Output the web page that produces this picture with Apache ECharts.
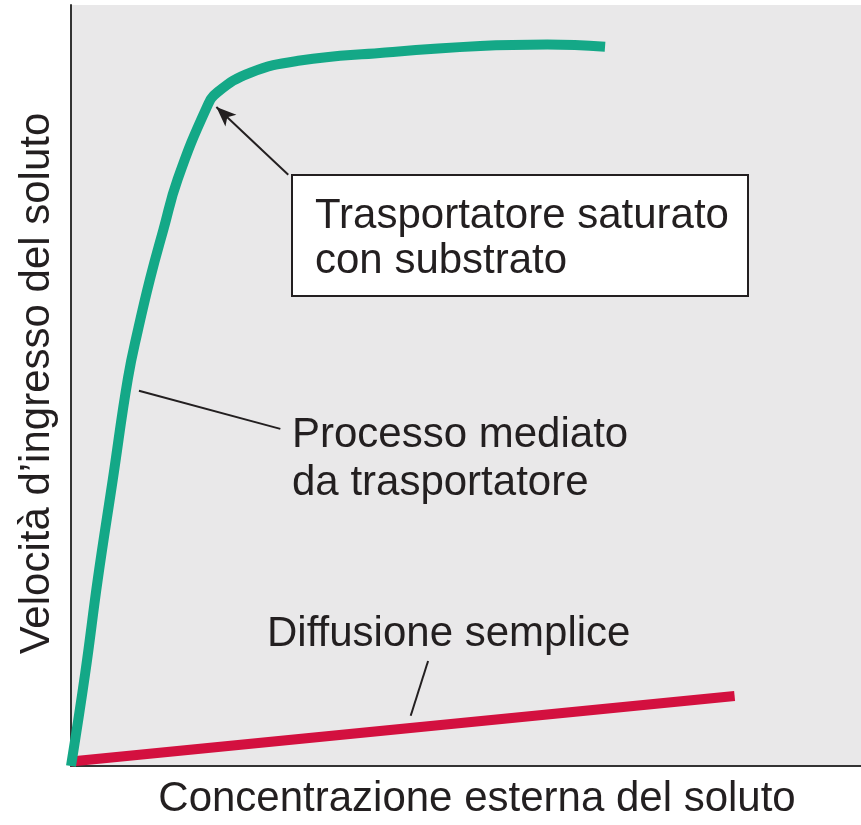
<!DOCTYPE html>
<html>
<head>
<meta charset="utf-8">
<script src="https://cdn.jsdelivr.net/npm/echarts@6/dist/echarts.min.js"></script>
<style>
  html, body { margin: 0; padding: 0; background: #fff; }
  #chart { width: 861px; height: 825px; }
</style>
</head>
<body>
<div id="chart"></div>
<script>
// carrier mediated uptake (saturating curve)
var carrierX = [0, 1.8, 3.4, 5.3, 7.2, 8.5, 10.0, 11.7, 13.5, 17.2, 18.5, 22.7, 29.0, 39.1, 51.8, 60.3, 67.6];
var carrierY = [0, 12.2, 24.6, 37.7, 50.9, 57.4, 64.0, 70.5, 77.1, 86.6, 88.5, 91.1, 92.7, 93.7, 94.6, 94.8, 94.5];
// simple diffusion (straight line)
var diffusionX = [0, 84.0];
var diffusionY = [0.6, 9.2];

var xTitle = 'Concentrazione esterna del soluto';
var yTitle = 'Velocità d’ingresso del soluto';

var FONT = '"Liberation Sans", Arial, Helvetica, sans-serif';
var INK = '#231f20';

function pairs(xs, ys) {
    return xs.map(function (x, i) { return [x, ys[i]]; });
}

var chartDom = document.getElementById('chart');
var myChart = echarts.init(chartDom, null, { renderer: 'canvas' });

var leaderStyle = { color: INK, width: 2, type: 'solid' };

var option = {
    animation: false,
    backgroundColor: '#ffffff',
    grid: {
        left: 71,
        right: 0,
        top: 5,
        bottom: 57,
        show: true,
        backgroundColor: '#e9e8e9',
        borderWidth: 0
    },
    xAxis: {
        type: 'value',
        min: 0,
        max: 100,
        name: xTitle,
        nameLocation: 'middle',
        nameGap: 12,
        nameTextStyle: {
            fontFamily: FONT,
            fontSize: 42,
            color: INK,
            verticalAlign: 'top',
            padding: [0, 0, 0, 22]
        },
        axisLine: { show: true, lineStyle: { color: '#333', width: 2 } },
        axisTick: { show: false },
        axisLabel: { show: false },
        splitLine: { show: false }
    },
    yAxis: {
        type: 'value',
        min: 0,
        max: 100,
        name: yTitle,
        nameLocation: 'middle',
        nameGap: 13,
        nameRotate: 90,
        nameTextStyle: {
            fontFamily: FONT,
            fontSize: 42,
            color: INK,
            padding: [0, 0, 0, 4]
        },
        axisLine: { show: true, onZero: false, lineStyle: { color: '#333', width: 2 } },
        axisTick: { show: false },
        axisLabel: { show: false },
        splitLine: { show: false }
    },
    series: [
        {
            name: 'Diffusione semplice',
            type: 'line',
            data: pairs(diffusionX, diffusionY),
            showSymbol: false,
            lineStyle: { color: '#d3103f', width: 10, cap: 'butt' },
            markLine: {
                silent: true,
                symbol: 'none',
                label: { show: false },
                lineStyle: leaderStyle,
                data: [
                    [{ coord: [45.2, 13.8] }, { coord: [43.0, 6.6] }]
                ]
            }
        },
        {
            name: 'Processo mediato da trasportatore',
            type: 'line',
            data: pairs(carrierX, carrierY),
            showSymbol: false,
            smooth: 0.45,
            lineStyle: { color: '#14a887', width: 10, cap: 'butt', join: 'round' },
            markLine: {
                silent: true,
                label: { show: false },
                lineStyle: leaderStyle,
                data: [
                    [{ coord: [8.6, 49.3], symbol: 'none' }, { coord: [26.5, 44.3], symbol: 'none' }],
                    [{ coord: [27.5, 77.7], symbol: 'none' }, { coord: [18.4, 86.6], symbol: 'arrow', symbolSize: [12, 20] }]
                ]
            }
        }
    ],
    graphic: [
        {
            type: 'rect',
            z: 100,
            shape: { x: 292, y: 175, width: 456, height: 121 },
            style: { fill: '#ffffff', stroke: INK, lineWidth: 2 }
        },
        {
            type: 'text', z: 101, x: 315, y: 216,
            style: { text: 'Trasportatore saturato', font: '42px ' + FONT, fill: INK, verticalAlign: 'middle' }
        },
        {
            type: 'text', z: 101, x: 315, y: 261,
            style: { text: 'con substrato', font: '42px ' + FONT, fill: INK, verticalAlign: 'middle' }
        },
        {
            type: 'text', z: 101, x: 292, y: 435,
            style: { text: 'Processo mediato', font: '42px ' + FONT, fill: INK, verticalAlign: 'middle' }
        },
        {
            type: 'text', z: 101, x: 292, y: 483,
            style: { text: 'da trasportatore', font: '42px ' + FONT, fill: INK, verticalAlign: 'middle' }
        },
        {
            type: 'text', z: 101, x: 267, y: 634,
            style: { text: 'Diffusione semplice', font: '42px ' + FONT, fill: INK, verticalAlign: 'middle' }
        }
    ]
};

option && myChart.setOption(option);
</script>
</body>
</html>
